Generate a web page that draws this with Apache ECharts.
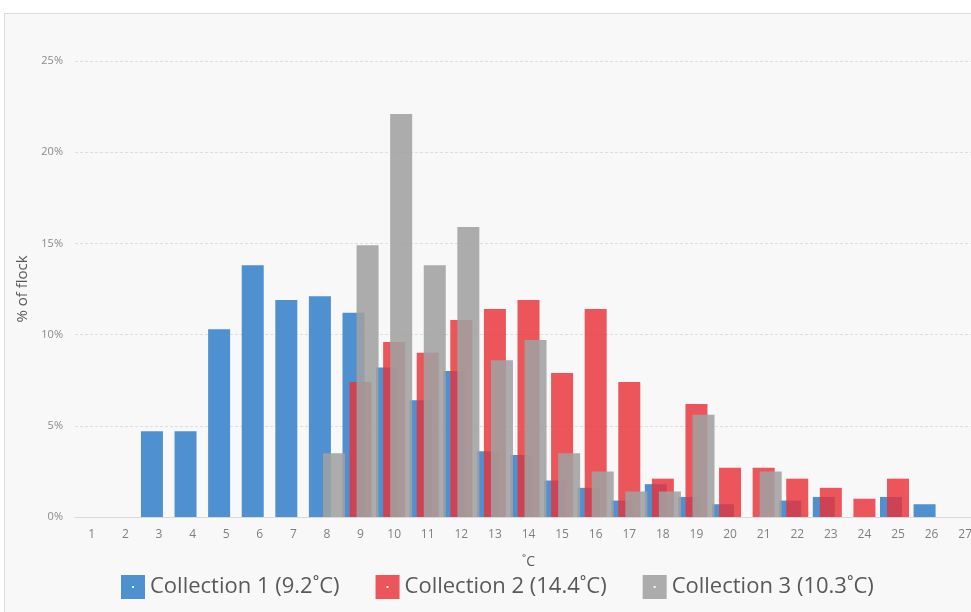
<!DOCTYPE html>
<html>
<head>
<meta charset="utf-8">
<script src="https://cdn.jsdelivr.net/npm/echarts@6/dist/echarts.min.js"></script>
<style>
  html, body { margin: 0; padding: 0; background: #ffffff; overflow: hidden; }
  /* wider than the window: the plot runs past the right edge of the picture */
  #chart { width: 992px; height: 612px; }
</style>
</head>
<body>
<div id="chart"></div>
<script>
// temperature bins (˚C)
const categories = ['1', '2', '3', '4', '5', '6', '7', '8', '9', '10', '11', '12', '13', '14',
    '15', '16', '17', '18', '19', '20', '21', '22', '23', '24', '25', '26', '27'];

// % of flock per bin
const collection1 = [0, 0, 4.7, 4.7, 10.3, 13.8, 11.9, 12.1, 11.2, 8.2, 6.4, 8.0, 3.6, 3.4,
    2.0, 1.6, 0.9, 1.8, 1.1, 0.7, 0, 0.9, 1.1, 0, 1.1, 0.7, 0];
const collection2 = [0, 0, 0, 0, 0, 0, 0, 0, 7.4, 9.6, 9.0, 10.8, 11.4, 11.9,
    7.9, 11.4, 7.4, 2.1, 6.2, 2.7, 2.7, 2.1, 1.6, 1.0, 2.1, 0, 0];
const collection3 = [0, 0, 0, 0, 0, 0, 0, 3.5, 14.9, 22.1, 13.8, 15.9, 8.6, 9.7,
    3.5, 2.5, 1.4, 1.4, 5.6, 0, 2.5, 0, 0, 0, 0, 0, 0];

const seriesNames = ['Collection 1 (9.2˚C)', 'Collection 2 (14.4˚C)', 'Collection 3 (10.3˚C)'];
const yTicks = [0, 5, 10, 15, 20, 25];

const font = 'Open Sans';
// square legend swatch with a tiny hole in the middle
const swatch = 'path://M0,0H24V24H0Z M11,11V13H13V11Z';

const chart = echarts.init(document.getElementById('chart'));
chart.setOption({
    animation: false,
    backgroundColor: '#ffffff',
    graphic: [{
        type: 'rect',
        z: -10,
        shape: {x: 4.5, y: 13.5, width: 1000, height: 620},
        style: {fill: '#f8f8f8', stroke: '#dcdcdc', lineWidth: 1}
    }],
    textStyle: {fontFamily: font},
    grid: {left: 75, right: 10, top: 61, bottom: 95, containLabel: false},
    legend: {
        left: 121,
        top: 575,
        padding: 0,
        itemWidth: 24,
        itemHeight: 24,
        itemGap: 36,
        icon: swatch,
        textStyle: {fontSize: 22, color: '#595959', fontFamily: font},
        data: seriesNames
    },
    xAxis: {
        type: 'category',
        data: categories,
        name: '˚C',
        nameLocation: 'middle',
        nameGap: 38,
        nameTextStyle: {fontSize: 14, color: '#595959'},
        axisLine: {lineStyle: {color: '#d9d9d9'}},
        axisTick: {show: false},
        axisLabel: {fontSize: 12, color: '#7f7f7f', margin: 12, interval: 0}
    },
    yAxis: {
        type: 'value',
        min: yTicks[0],
        max: yTicks[yTicks.length - 1],
        interval: 5,
        name: '% of flock',
        nameLocation: 'middle',
        nameGap: 45,
        nameTextStyle: {fontSize: 15, color: '#595959'},
        axisLine: {show: false},
        axisTick: {show: false},
        axisLabel: {fontSize: 11, color: '#8a8a8a', margin: 12, formatter: '{value}%'},
        splitLine: {lineStyle: {color: '#dedede', type: [3, 2]}}
    },
    series: [{
        name: seriesNames[0],
        type: 'bar',
        data: collection1,
        barWidth: 22,
        barGap: '-68%',
        itemStyle: {color: '#4f90d0'}
    }, {
        name: seriesNames[1],
        type: 'bar',
        data: collection2,
        barWidth: 22,
        barGap: '-68%',
        itemStyle: {color: 'rgba(233, 50, 56, 0.82)'}
    }, {
        name: seriesNames[2],
        type: 'bar',
        data: collection3,
        barWidth: 22,
        barGap: '-68%',
        itemStyle: {color: 'rgba(160, 160, 160, 0.88)'}
    }]
});
</script>
</body>
</html>
